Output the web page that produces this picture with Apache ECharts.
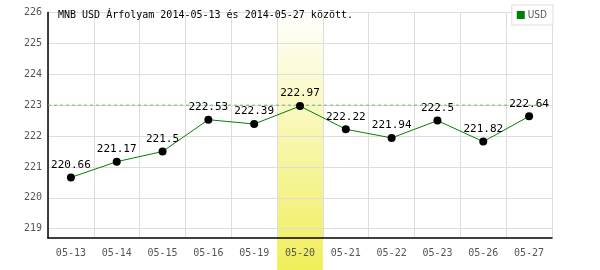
<!DOCTYPE html>
<html><head><meta charset="utf-8">
<script src="https://cdn.jsdelivr.net/npm/echarts@6/dist/echarts.min.js"></script>
<style>html,body{margin:0;padding:0;background:#fff}#c{width:600px;height:270px}</style>
</head><body><div id="c"></div>
<script>
const categories = ['05-13','05-14','05-15','05-16','05-19','05-20','05-21','05-22','05-23','05-26','05-27'];
const usdValues = [220.66, 221.17, 221.5, 222.53, 222.39, 222.97, 222.22, 221.94, 222.5, 221.82, 222.64];
const highlightCategory = '05-20';
const referenceLevel = 223;
const yMin = 218.7, yMax = 226;
const titleText = 'MNB USD Árfolyam 2014-05-13 és 2014-05-27 között.';
const seriesName = 'USD';

const band = categories.map(c => c === highlightCategory ? 1 : null);
const refLine = [[0, referenceLevel], [1, referenceLevel]];
const splitColors = ['rgba(0,0,0,0)','rgba(0,0,0,0)','rgba(0,0,0,0)','#dddddd','rgba(0,0,0,0)','rgba(0,0,0,0)','rgba(0,0,0,0)','rgba(0,0,0,0)','rgba(0,0,0,0)','rgba(0,0,0,0)'];
const mono = 'DejaVu Sans Mono';

const chart = echarts.init(document.getElementById('c'), null, {renderer:'canvas'});
chart.setOption({
  animation: false,
  title: { text: titleText, left: 53, top: 5, textStyle: { fontFamily: mono, fontSize: 10, fontWeight: 'normal', color: '#000' } },
  legend: {
    right: 47, top: 5, orient: 'horizontal',
    data: [{ name: seriesName, icon: 'rect', itemStyle: { color: '#008000' } }],
    itemWidth: 8, itemHeight: 8, itemGap: 4,
    borderColor: '#dddddd', borderWidth: 1, padding: [5, 6, 5, 5],
    textStyle: { fontFamily: 'DejaVu Sans Condensed', fontSize: 10, color: '#555', padding: [0,0,0,-2] },
    backgroundColor: '#fff'
  },
  grid: [
    { left: 48, right: 48, top: 12.5, bottom: 32 },
    { left: 48, right: 48, top: 8, bottom: 0 }
  ],
  xAxis: [
    { type: 'category', data: categories, gridIndex: 0, boundaryGap: true,
      axisLine: { lineStyle: { color: '#000', width: 1.5 } },
      axisTick: { show: false },
      axisLabel: { fontFamily: mono, fontSize: 10, color: '#555', margin: 10 },
      splitLine: { show: true, interval: 0, lineStyle: { color: '#dddddd', width: 1 } } },
    { type: 'category', data: categories, gridIndex: 1, show: false, boundaryGap: true },
    { type: 'value', gridIndex: 0, min: 0, max: 1, show: false }
  ],
  yAxis: [
    { type: 'value', gridIndex: 0, min: yMin, max: yMax, interval: 0.1,
      axisLine: { show: true, lineStyle: { color: '#000', width: 1.5 } },
      axisTick: { show: false },
      axisLabel: { fontFamily: mono, fontSize: 10, color: '#555', margin: 6,
        formatter: v => Math.abs(v - Math.round(v)) < 1e-6 ? String(Math.round(v)) : '' },
      splitLine: { show: true, lineStyle: { color: splitColors, width: 1 } } },
    { type: 'value', gridIndex: 1, min: 0, max: 1, show: false }
  ],
  series: [
    { type: 'bar', xAxisIndex: 1, yAxisIndex: 1, data: band, barWidth: '100%', z: -1, silent: true,
      legendHoverLink: false, name: '_band',
      itemStyle: { color: new echarts.graphic.LinearGradient(0, 0, 0, 1, [
        { offset: 0, color: '#ffffff' }, { offset: 1, color: '#f0ee5a' } ]) } },
    { type: 'line', name: '_ref', xAxisIndex: 2, yAxisIndex: 0, data: refLine, silent: true,
      symbol: 'none', z: 2,
      lineStyle: { color: '#66bb66', type: [3, 3], width: 1 } },
    { type: 'line', name: seriesName, data: usdValues, xAxisIndex: 0, yAxisIndex: 0, z: 3,
      lineStyle: { color: '#008000', width: 1 },
      symbol: 'circle', symbolSize: 8,
      itemStyle: { color: '#000' },
      label: { show: true, position: 'top', distance: 3, fontFamily: mono, fontSize: 11, color: '#000' } }
  ]
});
</script></body></html>
